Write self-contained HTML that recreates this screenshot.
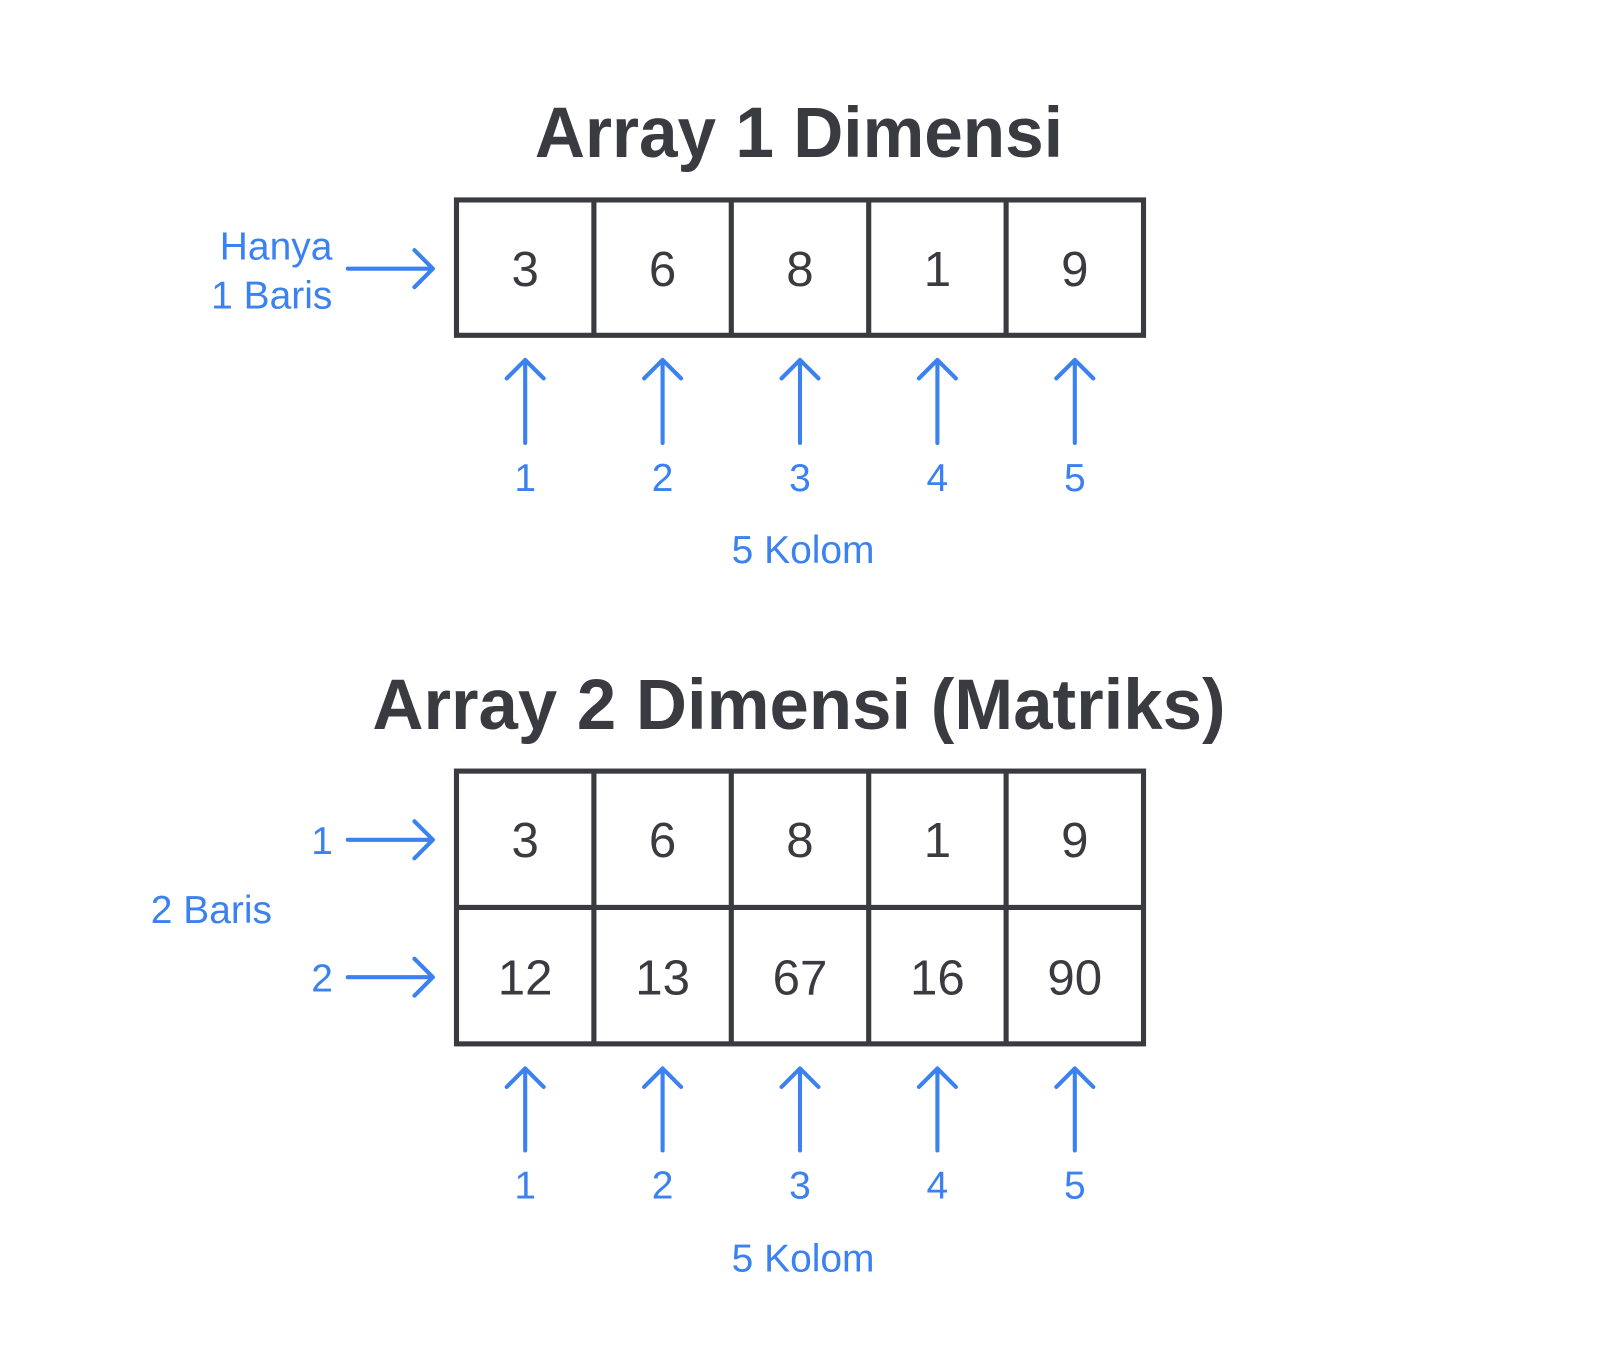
<!DOCTYPE html>
<html><head><meta charset="utf-8"><style>
html,body{margin:0;padding:0;background:#fff;}
svg{display:block;}
</style></head><body>
<svg width="1600" height="1372" viewBox="0 0 1560 1338" xmlns="http://www.w3.org/2000/svg" font-family="Liberation Sans, sans-serif">
<g transform="translate(-4,-2)">
<g fill="#3a3b40">
<text x="783" y="155" font-size="70" font-weight="bold" text-anchor="middle" textLength="515" lengthAdjust="spacingAndGlyphs">Array 1 Dimensi</text>
<text x="783" y="713" font-size="70" font-weight="bold" text-anchor="middle" textLength="832" lengthAdjust="spacingAndGlyphs">Array 2 Dimensi (Matriks)</text>
</g>
<g fill="none" stroke="#3a3b40" stroke-width="5">
<rect x="449" y="197" width="670" height="132"/>
<line x1="583" y1="197" x2="583" y2="329"/><line x1="717" y1="197" x2="717" y2="329"/>
<line x1="851" y1="197" x2="851" y2="329"/><line x1="985" y1="197" x2="985" y2="329"/>
<rect x="449" y="754" width="670" height="266"/>
<line x1="449" y1="887" x2="1119" y2="887"/>
<line x1="583" y1="754" x2="583" y2="1020"/><line x1="717" y1="754" x2="717" y2="1020"/>
<line x1="851" y1="754" x2="851" y2="1020"/><line x1="985" y1="754" x2="985" y2="1020"/>
</g>
<g fill="#3a3b40" font-size="48" text-anchor="middle">
<text x="516" y="281">3</text><text x="650" y="281">6</text><text x="784" y="281">8</text><text x="918" y="281">1</text><text x="1052" y="281">9</text>
<text x="516" y="838">3</text><text x="650" y="838">6</text><text x="784" y="838">8</text><text x="918" y="838">1</text><text x="1052" y="838">9</text>
<text x="516" y="972">12</text><text x="650" y="972">13</text><text x="784" y="972">67</text><text x="918" y="972">16</text><text x="1052" y="972">90</text>
</g>
<g stroke="#3b82f0" stroke-width="4" fill="none" stroke-linecap="round" stroke-linejoin="round">
<path d="M343 264H425M408 246L426 264L408 282"/>
<path d="M343 821H425M408 803L426 821L408 839"/>
<path d="M343 955H425M408 937L426 955L408 973"/>
<path d="M516 434V354M498 371L516 353L534 371"/>
<path d="M650 434V354M632 371L650 353L668 371"/>
<path d="M784 434V354M766 371L784 353L802 371"/>
<path d="M918 434V354M900 371L918 353L936 371"/>
<path d="M1052 434V354M1034 371L1052 353L1070 371"/>
<path d="M516 1124V1045M498 1062L516 1044L534 1062"/>
<path d="M650 1124V1045M632 1062L650 1044L668 1062"/>
<path d="M784 1124V1045M766 1062L784 1044L802 1062"/>
<path d="M918 1124V1045M900 1062L918 1044L936 1062"/>
<path d="M1052 1124V1045M1034 1062L1052 1044L1070 1062"/>
</g>
<g fill="#3b82f0" font-size="38" text-anchor="middle">
<text x="516" y="481">1</text><text x="650" y="481">2</text><text x="784" y="481">3</text><text x="918" y="481">4</text><text x="1052" y="481">5</text>
<text x="787" y="551">5 Kolom</text>
<text x="516" y="1171">1</text><text x="650" y="1171">2</text><text x="784" y="1171">3</text><text x="918" y="1171">4</text><text x="1052" y="1171">5</text>
<text x="787" y="1242">5 Kolom</text>
<text x="328" y="255" text-anchor="end">Hanya</text>
<text x="328" y="303" text-anchor="end">1 Baris</text>
<text x="318" y="835">1</text>
<text x="318" y="969">2</text>
<text x="210" y="902">2 Baris</text>
</g>
</g>
</svg>
</body></html>
